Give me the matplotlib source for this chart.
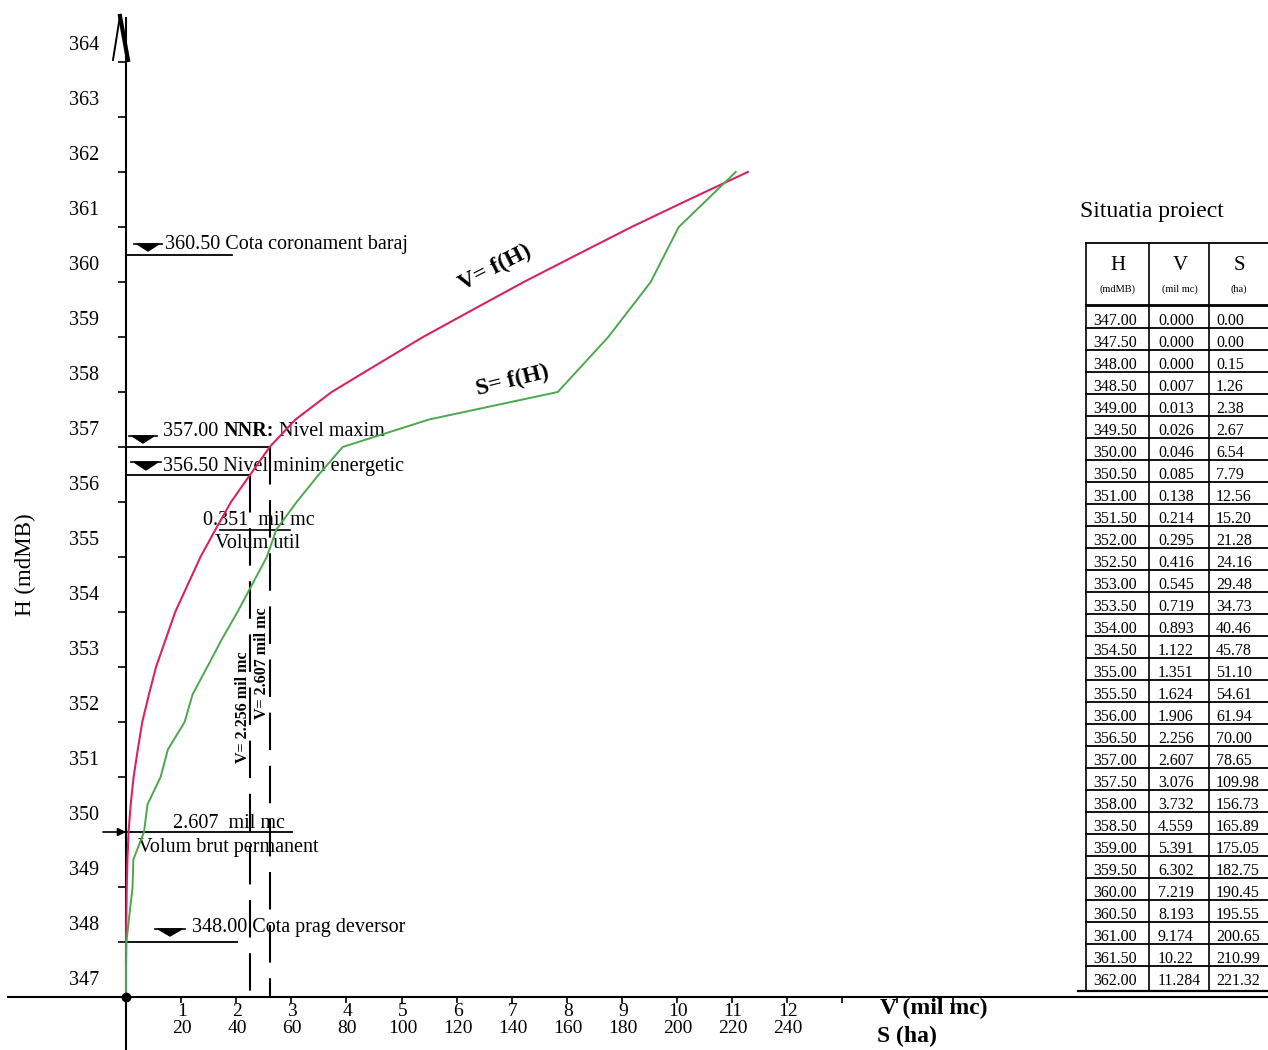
import matplotlib
matplotlib.use("Agg")
import matplotlib.pyplot as plt
from matplotlib.patches import Polygon
from matplotlib.lines import Line2D

# Reservoir characteristic curves: volume V=f(H) and surface S=f(H)
H_levels = [347.00, 347.50, 348.00, 348.50, 349.00, 349.50, 350.00, 350.50,
            351.00, 351.50, 352.00, 352.50, 353.00, 353.50, 354.00, 354.50,
            355.00, 355.50, 356.00, 356.50, 357.00, 357.50, 358.00, 358.50,
            359.00, 359.50, 360.00, 360.50, 361.00, 361.50, 362.00]
V_vol = [0.000, 0.000, 0.000, 0.007, 0.013, 0.026, 0.046, 0.085,
         0.138, 0.214, 0.295, 0.416, 0.545, 0.719, 0.893, 1.122,
         1.351, 1.624, 1.906, 2.256, 2.607, 3.076, 3.732, 4.559,
         5.391, 6.302, 7.219, 8.193, 9.174, 10.22, 11.284]
S_area = [0.00, 0.00, 0.15, 1.26, 2.38, 2.67, 6.54, 7.79,
          12.56, 15.20, 21.28, 24.16, 29.48, 34.73, 40.46, 45.78,
          51.10, 54.61, 61.94, 70.00, 78.65, 109.98, 156.73, 165.89,
          175.05, 182.75, 190.45, 195.55, 200.65, 210.99, 221.32]

y_ticks = list(range(347, 365))
v_tick_labels = list(range(1, 13))
s_tick_labels = [20 * k for k in v_tick_labels]
x_tick_marks = list(range(1, 16))
S_PER_V = 20.0  # 20 ha share one unit with 1 mil mc on the common axis

# characteristic levels
H_crest = 360.50
H_nnr = 357.00
H_min = 356.50
H_sill = 348.00
H_dead = 350.00
V_nnr = 2.607
V_min = 2.256

plt.rcParams["font.family"] = ["Liberation Serif", "DejaVu Serif"]

W, HH = 1268, 1050
X0, Y0 = 126.0, 997.0
SX, SY = 55.1, 55.0

fig = plt.figure(figsize=(W / 100, HH / 100), dpi=100)
fig.patch.set_facecolor("white")
ax = fig.add_axes([0, 0, 1, 1])
ax.set_xlim(-X0 / SX, (W - X0) / SX)
ax.set_ylim(347 - (HH - Y0) / SY, 347 + Y0 / SY)
ax.set_facecolor("none")


def pv(px):
    return (px - X0) / SX


def ph(py):
    return 347 + (Y0 - py) / SY


# axes through the origin
for s in ("top", "right"):
    ax.spines[s].set_visible(False)
ax.spines["left"].set_position(("data", 0))
ax.spines["bottom"].set_position(("data", 347))
ax.spines["left"].set_bounds(ph(HH), ph(18))
ax.spines["bottom"].set_bounds(pv(8), pv(W))
ax.spines["left"].set_linewidth(1.5)
ax.spines["bottom"].set_linewidth(1.5)
ax.set_yticks(y_ticks)
ax.set_xticks(x_tick_marks)
ax.tick_params(axis="y", direction="out", length=6, width=1.2, labelleft=False)
ax.tick_params(axis="x", direction="out", length=4, width=1.2, labelbottom=False)

# arrow at top of the H axis
ax.plot([pv(113), pv(120)], [ph(60), ph(16)], color="k", lw=1.4)
ax.plot([pv(120), pv(128)], [ph(16), ph(60)], color="k", lw=3.0)
ax.plot([0], [347], "o", color="k", ms=6, zorder=6)

# tick labels
for h in y_ticks:
    ax.annotate(f"{h}", (0, h), xytext=(-27, 17), textcoords="offset pixels",
                ha="right", va="center", fontsize=14.5)
for v, s in zip(v_tick_labels, s_tick_labels):
    ax.annotate(f"{v}", (v, 347), xytext=(1, -14), textcoords="offset pixels",
                ha="center", va="center", fontsize=14)
    ax.annotate(f"{s}", (v, 347), xytext=(1, -31), textcoords="offset pixels",
                ha="center", va="center", fontsize=14)

ax.text(pv(880), ph(1008), "V (mil mc)", fontsize=17, fontweight="bold",
        ha="left", va="center")
ax.text(pv(877), ph(1036), "S (ha)", fontsize=17, fontweight="bold",
        ha="left", va="center")
ax.text(pv(25), ph(565), "H (mdMB)", fontsize=16.5, rotation=90,
        ha="center", va="center")

# curves
S_scaled = [s / S_PER_V for s in S_area]
ax.plot(V_vol, H_levels, color="#d6245e", lw=1.5, zorder=4)
ax.plot(S_scaled, H_levels, color="#4ea64e", lw=1.4, zorder=4)
ax.text(pv(495), ph(268), "V= f(H)", fontsize=17, fontweight="bold",
        rotation=27, ha="center", va="center")
ax.text(pv(513), ph(381), "S= f(H)", fontsize=17, fontweight="bold",
        rotation=14, ha="center", va="center")


def level_mark(cx, py, w=22, h=7):
    pts = [(pv(cx - w / 2), ph(py - h)), (pv(cx + w / 2), ph(py - h)),
           (pv(cx), ph(py))]
    ax.add_patch(Polygon(pts, closed=True, facecolor="k", edgecolor="k",
                         lw=1.0, zorder=5))
    ax.plot([pv(cx - w / 2 - 3), pv(cx + w / 2 + 3)], [ph(py - h)] * 2,
            color="k", lw=1.2)


LW = 1.3
# crest level
ax.plot([0, pv(232)], [H_crest, H_crest], color="k", lw=LW)
level_mark(148, 251)
ax.text(pv(165), ph(244), "360.50 Cota coronament baraj", fontsize=14.5,
        ha="left", va="center")

# normal retention level: regular / bold / regular pieces chained together
ax.plot([0, V_nnr], [H_nnr, H_nnr], color="k", lw=LW)
level_mark(143, 443)
t1 = ax.text(pv(163), ph(436), "357.00 ", fontsize=14.5, ha="left",
             va="baseline")
t2 = ax.annotate("NNR:", xy=(1, 0), xycoords=t1, fontsize=14.5,
                 fontweight="bold", ha="left", va="bottom")
ax.annotate(" Nivel maxim", xy=(1, 0), xycoords=t2, fontsize=14.5,
            ha="left", va="bottom")

# minimum energy level
ax.plot([0, V_min], [H_min, H_min], color="k", lw=LW)
level_mark(146, 470, w=24, h=8)
ax.text(pv(163), ph(466), "356.50 Nivel minim energetic", fontsize=14.5,
        ha="left", va="center")

# dashed verticals down to the V axis
ax.plot([V_min, V_min], [H_min, 347], color="k", lw=1.5,
        linestyle=(0, (18, 7.5)))
ax.plot([V_nnr, V_nnr], [H_nnr, 347], color="k", lw=1.5,
        linestyle=(0, (18, 7.5)))
ax.text(pv(243), ph(707), "V= 2.256 mil mc", fontsize=11.5, fontweight="bold",
        rotation=90, ha="center", va="center")
ax.text(pv(262), ph(663), "V= 2.607 mil mc", fontsize=11.5, fontweight="bold",
        rotation=90, ha="center", va="center")

# useful volume
ax.plot([pv(220), pv(290)], [ph(530), ph(530)], color="k", lw=1.2)
ax.text(pv(203), ph(520), "0.351  mil mc", fontsize=14.5, ha="left", va="center")
ax.text(pv(258), ph(543), "Volum util", fontsize=14.5, ha="center", va="center")

# dead storage
ax.annotate("", xy=(0, H_dead), xytext=(pv(103), H_dead),
            arrowprops=dict(arrowstyle="-|>", color="k", lw=1.2,
                            mutation_scale=12, shrinkA=0, shrinkB=0))
ax.plot([0, pv(292)], [H_dead, H_dead], color="k", lw=LW)
ax.text(pv(173), ph(823), "2.607  mil mc", fontsize=14.5, ha="left", va="center")
ax.text(pv(138), ph(847), "Volum brut permanent", fontsize=14.5, ha="left",
        va="center")

# spillway sill
ax.plot([0, pv(237)], [H_sill, H_sill], color="k", lw=LW)
level_mark(170, 936, w=24, h=7)
ax.text(pv(192), ph(927), "348.00 Cota prag deversor", fontsize=14.5,
        ha="left", va="center")

# ---- project table ----
def fx(px):
    return px / W


def fy(py):
    return 1 - py / HH


def fline(x1, y1, x2, y2, lw=1.2):
    fig.add_artist(Line2D([fx(x1), fx(x2)], [fy(y1), fy(y2)], color="k", lw=lw,
                          transform=fig.transFigure))


def ftxt(px, py, s, **kw):
    fig.text(fx(px), fy(py), s, **kw)


def fmt_v(v):
    s = f"{v:.3f}"
    if v >= 10:
        s = s.rstrip("0")
    return s


ftxt(1080, 212, "Situatia proiect", fontsize=17, ha="left", va="center")
T_L, T_C1, T_C2, T_R = 1086, 1149, 1209, 1268
T_TOP, T_HEAD, T_BOT = 243, 305, 991
fline(T_L, T_TOP, T_R, T_TOP, lw=1.3)
fline(T_L, T_HEAD, T_R, T_HEAD, lw=2.0)
fline(1078, T_BOT, T_R, T_BOT, lw=1.6)
for xc in (T_L, T_C1, T_C2):
    fline(xc, T_TOP, xc, T_BOT, lw=1.2)

ftxt(1118, 265, "H", fontsize=15, ha="center", va="center")
ftxt(1118, 289, "(mdMB)", fontsize=7.5, ha="center", va="center")
ftxt(1180, 265, "V", fontsize=15, ha="center", va="center")
ftxt(1180, 289, "(mil mc)", fontsize=7.5, ha="center", va="center")
ftxt(1239, 265, "S", fontsize=15, ha="center", va="center")
ftxt(1239, 289, "(ha)", fontsize=7.5, ha="center", va="center")

n = len(H_levels)
for i, (h, v, s) in enumerate(zip(H_levels, V_vol, S_area)):
    ry = 321 + 22 * i
    ftxt(1093, ry, f"{h:.2f}", fontsize=11.5, ha="left", va="center")
    ftxt(1158, ry, fmt_v(v), fontsize=11.5, ha="left", va="center")
    ftxt(1216, ry, f"{s:.2f}", fontsize=11.5, ha="left", va="center")
    if i < n - 1:
        fline(T_L, ry + 7, T_R, ry + 7, lw=1.3)

fig.savefig("out.png", dpi=100, facecolor="white")
